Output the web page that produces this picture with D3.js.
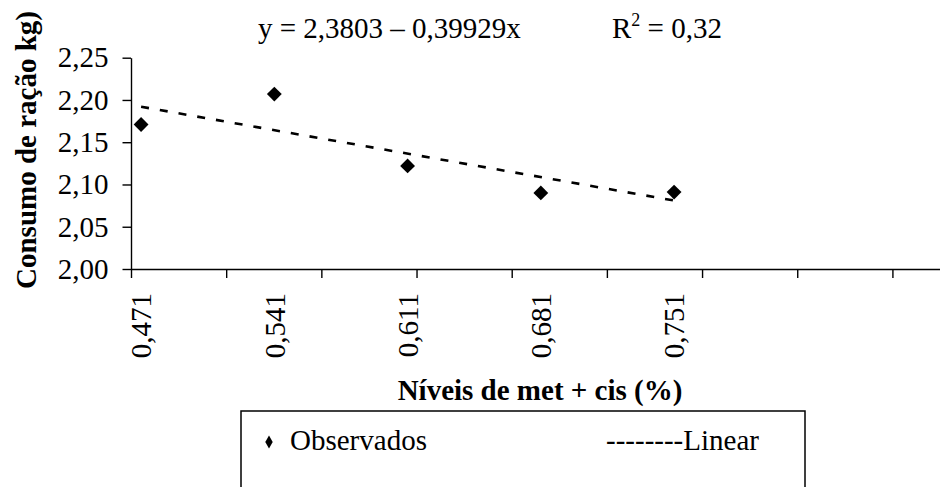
<!DOCTYPE html>
<html>
<head>
<meta charset="utf-8">
<script src="https://cdn.jsdelivr.net/npm/d3@7"></script>
<style>
  body { margin: 0; background: #fff; }
  svg { display: block; font-family: "Liberation Serif", "Times New Roman", serif; }
  .axis path, .axis line { stroke: #000; stroke-width: 1.4px; }
</style>
</head>
<body>
<div class="chart"></div>
<script>
// observed values
const niveis = [0.471, 0.541, 0.611, 0.681, 0.751];
const consumo = [2.171, 2.207, 2.122, 2.090, 2.091];

// trend line ends
const trendX = [0.471, 0.751];
const trendY = [2.192, 2.081];

const yTicks = [2.00, 2.05, 2.10, 2.15, 2.20, 2.25];
const equation = "y = 2,3803 \u2013 0,39929x";
const r2Value = "0,32";

const width = 940, height = 487;
const serif = '"Liberation Serif", "Times New Roman", serif';

const svg = d3.select('.chart')
              .append('svg')
              .attr('width', width)
              .attr('height', height);

// x axis starts a bit before the first level, one tick every 0,05
const xScale = d3.scaleLinear()
                 .domain([0.4657, 0.8907])
                 .range([131, 940]);

const yScale = d3.scaleLinear()
                 .domain([2.00, 2.25])
                 .range([269, 57.7]);

const fmt = d => d3.format(".2f")(d).replace('.', ',');
const fmt3 = d => d3.format(".3f")(d).replace('.', ',');

// x tick marks (no labels)
svg.append('g')
   .attr('class', 'axis x-axis')
   .attr('transform', 'translate(0,269)')
   .call(d3.axisBottom(xScale)
           .tickValues(d3.range(0.4657, 0.89, 0.05))
           .tickSize(9)
           .tickSizeOuter(0)
           .tickFormat(''));

// rotated level labels under each point
const xLabels = svg.append('g')
   .attr('class', 'axis')
   .attr('transform', 'translate(0,269)')
   .call(d3.axisBottom(xScale)
           .tickValues(niveis)
           .tickSize(0)
           .tickFormat(fmt3))
   .attr('font-family', serif)
   .attr('font-size', 29);
xLabels.select('.domain').remove();
xLabels.selectAll('text')
       .attr('fill', '#000')
       .attr('transform', 'rotate(-90)')
       .attr('x', -24)
       .attr('y', 0)
       .attr('dy', '0.34em')
       .attr('text-anchor', 'end');

svg.append('g')
   .attr('class', 'axis y-axis')
   .attr('transform', 'translate(131,0)')
   .call(d3.axisLeft(yScale)
           .tickValues(yTicks)
           .tickSize(8.5)
           .tickSizeOuter(0)
           .tickPadding(14)
           .tickFormat(fmt))
   .attr('font-family', serif)
   .attr('font-size', 29)
   .selectAll('text').attr('fill', '#000');

// trend line
const line = d3.line()
               .x(d => xScale(d[0]))
               .y(d => yScale(d[1]));

svg.append('path')
   .datum(d3.zip(trendX, trendY))
   .attr('d', line)
   .attr('fill', 'none')
   .attr('stroke', '#000')
   .attr('stroke-width', 2.6)
   .attr('stroke-dasharray', '8,11');

// observed points
svg.selectAll('.pt')
   .data(d3.zip(niveis, consumo))
   .enter()
   .append('path')
   .attr('class', 'pt')
   .attr('d', d3.symbol().type(d3.symbolSquare).size(110))
   .attr('transform', d => `translate(${xScale(d[0])},${yScale(d[1])}) rotate(45)`)
   .attr('fill', '#000');

// equation
svg.append('text')
   .attr('x', 258)
   .attr('y', 38)
   .attr('font-size', 29)
   .text(equation);

const r2 = svg.append('text')
              .attr('x', 612)
              .attr('y', 38)
              .attr('font-size', 29);
r2.append('tspan').text('R');
r2.append('tspan').attr('font-size', 18).attr('dy', -12).text('2');
r2.append('tspan').attr('dy', 12).text(' = ' + r2Value);

// axis titles
svg.append('text')
   .attr('x', 540)
   .attr('y', 400)
   .attr('text-anchor', 'middle')
   .attr('font-size', 29)
   .attr('font-weight', 'bold')
   .text('Níveis de met + cis (%)');

svg.append('text')
   .attr('transform', 'translate(36,150) rotate(-90)')
   .attr('text-anchor', 'middle')
   .attr('font-size', 29)
   .attr('font-weight', 'bold')
   .text('Consumo de ração kg)');

// legend
const legend = svg.append('g');
legend.append('rect')
      .attr('x', 241)
      .attr('y', 411)
      .attr('width', 564)
      .attr('height', 120)
      .attr('fill', 'none')
      .attr('stroke', '#000')
      .attr('stroke-width', 1.5);

legend.append('path')
      .attr('d', d3.symbol().type(d3.symbolDiamond).size(48))
      .attr('transform', 'translate(269,442)')
      .attr('fill', '#000');

legend.append('text')
      .attr('x', 290)
      .attr('y', 450)
      .attr('font-size', 29)
      .text('Observados');

legend.append('text')
      .attr('x', 606)
      .attr('y', 450)
      .attr('font-size', 29)
      .text('--------Linear');
</script>
</body>
</html>
